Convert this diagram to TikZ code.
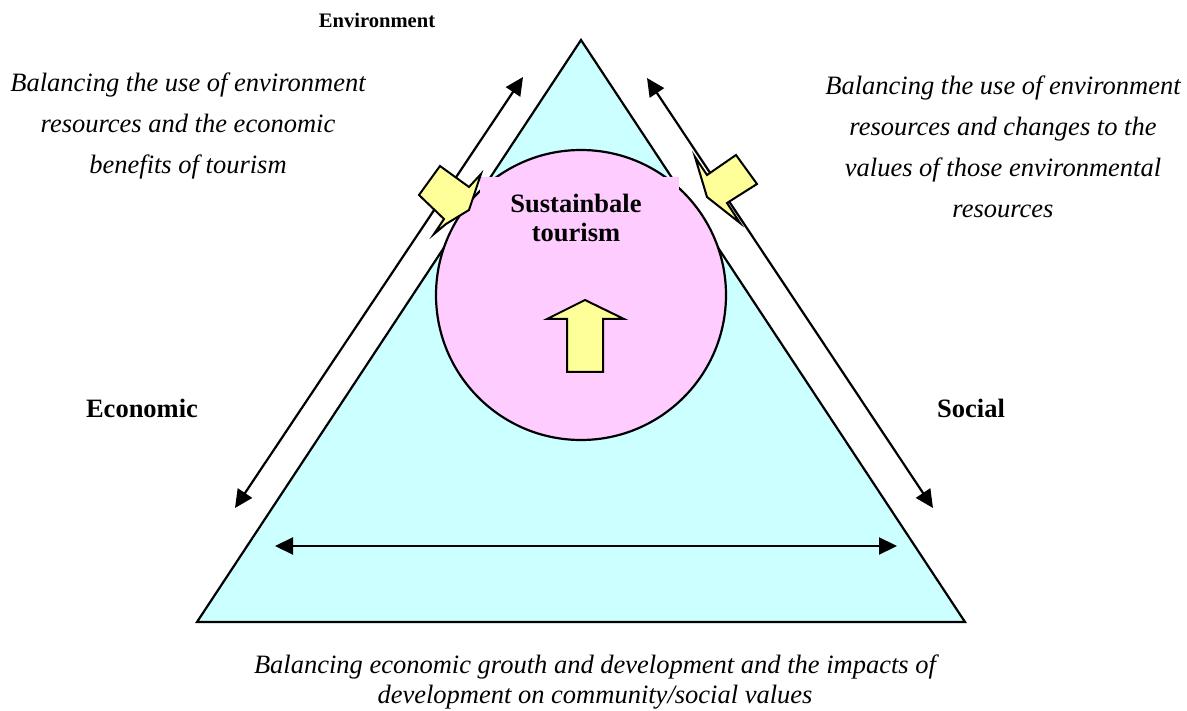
\documentclass[tikz,border=0pt]{standalone}
\usepackage{fontspec}
\setmainfont{Liberation Serif}
\usetikzlibrary{arrows.meta}
\definecolor{tricyan}{HTML}{CCFFFF}
\definecolor{circpink}{HTML}{FFCCFF}
\definecolor{calloutyellow}{HTML}{FFFF99}
\tikzset{
  outline/.style={draw=black, line width=2.2pt, line join=miter},
  dblarrow/.style={line width=2.2pt, {Triangle[length=18pt,width=17pt]}-{Triangle[length=18pt,width=17pt]}},
  itxt/.style={font=\fontsize{26.5}{41}\selectfont\itshape, align=center, inner sep=0pt},
  btxt/.style={font=\fontsize{26.5}{29}\selectfont\bfseries, align=center, inner sep=0pt},
  callout/.style={line width=2pt, fill=calloutyellow, line join=miter},
}
\begin{document}
\begin{tikzpicture}[x=1pt,y=-1pt]
\useasboundingbox (0,0) rectangle (1187,711);
% triangle
\coordinate (apex) at (581,40);
\coordinate (bl) at (197,622);
\coordinate (br) at (965,622);
\draw[outline, fill=tricyan] (apex) -- (bl) -- (br) -- cycle;
% circle
\node[outline, fill=circpink, circle, minimum size=290pt, inner sep=0pt] (circ) at (581,295) {};
% pink label box
\node[fill=circpink, minimum width=199pt, minimum height=80pt, inner sep=0pt] (box) at (579.5,217) {};
\node[btxt] (st) at (576,218) {Sustainbale\\tourism};
% up arrow
\draw[callout] (585,300) -- (624,319) -- (603,319) -- (603,372) -- (567,372) -- (567,319) -- (547,319) -- cycle;
% diagonal arrows
\coordinate (la1) at (235,508);
\coordinate (la2) at (523,77);
\coordinate (ra1) at (647,78);
\coordinate (ra2) at (933,508);
\coordinate (ha1) at (275,546);
\coordinate (ha2) at (897,546);
\draw[dblarrow] (la1) -- (la2);
\draw[dblarrow] (ra1) -- (ra2);
\draw[dblarrow] (ha1) -- (ha2);
% callouts
\draw[callout] (419,195) -- (440,166) -- (469,187) -- (481,174) -- (469,210) -- (446,224) -- (434,234) -- (444,219) -- cycle;
\draw[callout] (736,155) -- (757,184) -- (727,203) -- (740,223) -- (707,197) -- (695,157) -- (707,175) -- cycle;
% texts
\node[font=\fontsize{20.6}{24}\selectfont\bfseries, inner sep=0pt] (env) at (377,20) {Environment};
\node[btxt] (eco) at (142,408) {Economic};
\node[btxt] (soc) at (971,408) {Social};
\node[itxt] (lt) at (188,126) {Balancing the use of environment\\resources and the economic\\benefits of tourism};
\node[itxt] (rt) at (1003,147) {Balancing the use of environment\\resources and changes to the\\values of those environmental\\resources};
\node[itxt, font=\fontsize{26.5}{30}\selectfont\itshape] (bt) at (595,682) {Balancing economic grouth and development and the impacts of\\development on community/social values};
\end{tikzpicture}
\end{document}
